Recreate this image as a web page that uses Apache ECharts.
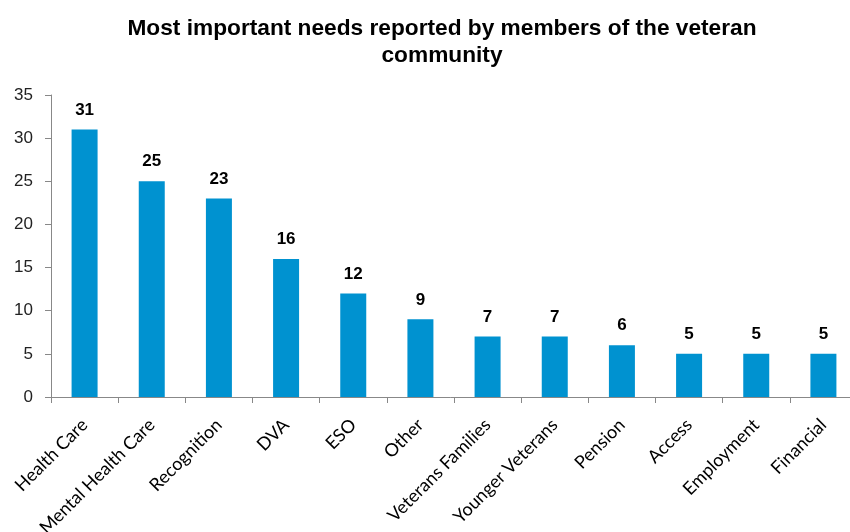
<!DOCTYPE html>
<html>
<head>
<meta charset="utf-8">
<script src="https://cdn.jsdelivr.net/npm/echarts@6/dist/echarts.min.js"></script>
<style>
  html, body { margin: 0; padding: 0; background: #ffffff; }
  #chart { width: 850px; height: 532px; }
</style>
</head>
<body>
<div id="chart"></div>
<script>
// Needs named by veteran community members, with counts of mentions
const categories = [
  'Health Care', 'Mental Health Care', 'Recognition', 'DVA', 'ESO', 'Other',
  'Veterans Families', 'Younger Veterans', 'Pension', 'Access', 'Employment', 'Financial'
];
const mentions = [31, 25, 23, 16, 12, 9, 7, 7, 6, 5, 5, 5];
const yTicks = { min: 0, max: 35, interval: 5 };

const chart = echarts.init(document.getElementById('chart'), null, { renderer: 'canvas' });

chart.setOption({
  animation: false,
  backgroundColor: '#ffffff',
  title: {
    text: 'Most important needs reported by members of the veteran\ncommunity',
    left: 437,
    textAlign: 'center',
    top: 10,
    textStyle: {
      fontFamily: '"Liberation Sans", Arial, sans-serif',
      fontWeight: 'bold',
      fontSize: 22.7,
      lineHeight: 27,
      color: '#000000'
    }
  },
  grid: {
    left: 51, right: -7, top: 95, bottom: 135,
    containLabel: false,
    outerBoundsMode: 'none'
  },
  xAxis: {
    type: 'category',
    data: categories,
    axisLine: { lineStyle: { color: '#888888', width: 1 } },
    axisTick: { show: true, alignWithLabel: false, length: 6, lineStyle: { color: '#888888' } },
    axisLabel: {
      rotate: 45,
      interval: 0,
      margin: 25,
      fontFamily: 'Lato, "Open Sans", sans-serif',
      fontSize: 18,
      color: '#000000'
    },
    splitLine: { show: false }
  },
  yAxis: {
    type: 'value',
    min: yTicks.min,
    max: yTicks.max,
    interval: yTicks.interval,
    axisLine: { show: true, lineStyle: { color: '#888888', width: 1 } },
    axisTick: { show: true, length: 6, lineStyle: { color: '#888888' } },
    axisLabel: {
      margin: 18,
      fontFamily: '"Liberation Sans", Arial, sans-serif',
      fontSize: 17,
      color: '#222222'
    },
    splitLine: { show: false }
  },
  series: [{
    type: 'bar',
    data: mentions,
    barWidth: 26,
    itemStyle: { color: '#0092D0' },
    label: {
      show: true,
      position: 'top',
      distance: 11,
      fontFamily: '"Liberation Sans", Arial, sans-serif',
      fontWeight: 'bold',
      fontSize: 17,
      color: '#000000'
    }
  }]
});
</script>
</body>
</html>
